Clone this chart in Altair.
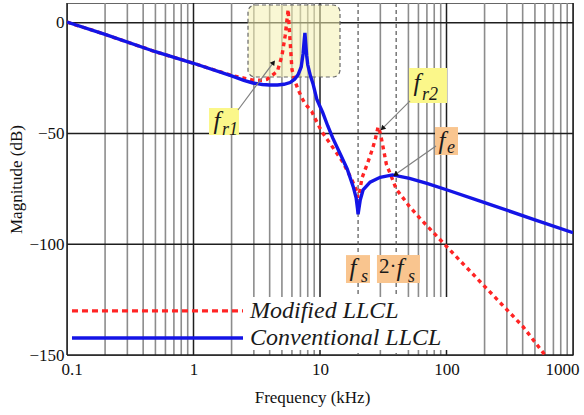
import altair as alt
import pandas as pd

# ---------------- data ----------------
blue_f = [0.1, 0.2, 0.5, 1, 2, 2.5, 2.95, 3.5, 4, 4.6, 5.2, 5.8, 6.3, 6.7, 7.1, 7.35, 7.5, 7.6,
          7.7, 7.85, 8.0, 8.4, 8.8, 9.46, 10.5, 11.5, 12.6, 14.4, 16.4, 18.3, 19.3, 19.8, 20,
          20.3, 20.8, 21.9, 24.9, 29.9, 37.4, 51, 70, 100, 200, 500, 1000]
blue_db = [0.3, -5.3, -13.1, -18.3, -24, -26, -27.2, -27.9, -28.1, -28.1, -27.8, -27, -25.5, -23.5,
           -20, -14, -8, -4.6, -9, -15, -19, -24, -27.5, -34.8, -40.5, -46.5, -52, -59, -66, -74,
           -79, -84, -86.5, -84, -80, -75.5, -72, -69.8, -68.7, -70.3, -72.5, -75.4, -81.2, -89, -94.8]

red_f = [0.1, 0.2, 0.5, 1, 2, 2.5, 2.95, 3.5, 3.8, 4.0, 4.6, 5.0, 5.3, 5.5, 5.6, 5.75, 6.0, 6.3,
         6.7, 7.2, 7.6, 8.6, 9.1, 10.3, 11.5, 13.5, 15.2, 17.9, 19.5, 20, 20.6, 21.5, 23.9, 26,
         27.5, 28.8, 30, 31, 33.5, 37, 40, 51, 61, 100, 200, 400, 600, 1000]
red_db = [0.3, -5.3, -13.1, -18.3, -23.8, -25, -25.9, -26, -25.6, -24.5, -22, -15, -6, 2, 6, -5,
          -21, -26, -30, -34, -36.5, -40, -43, -49, -53, -58.7, -63, -71, -76, -79, -76, -70, -63,
          -57, -52, -47, -50, -54, -64, -70, -75, -83, -88, -101, -119, -137, -150, -164]

x_ticks = [0.1, 1, 10, 100, 1000]
y_ticks = [-150, -100, -50, 0]
decades = [0.1, 1, 10, 100, 1000]
minor = [m * d for d in [0.1, 1, 10, 100] for m in range(2, 10) if not (d == 10 and m in (2, 4))]
fs_marks = [20, 40]

legend_names = ["Modified LLCL", "Conventional LLCL"]

SERIF = "Liberation Serif"
BLUE = "#1414e6"
RED = "#ff2424"

XS = alt.Scale(type="log", domain=[0.1, 1000], nice=False)
YS = alt.Scale(domain=[-150, 8.9], nice=False, zero=False)

AX = alt.Axis(
    values=x_ticks, format="~g", grid=False, ticks=False, domain=False,
    labelFont=SERIF, labelFontSize=17, labelColor="#111", labelPadding=6,
    labelFlush=True, labelFlushOffset=6,
    title="Frequency (kHz)", titleFont=SERIF, titleFontSize=17, titleFontWeight="normal",
    titleColor="#111", titleX=245, titleY=42, titleBaseline="middle", titleAlign="center")
AY = alt.Axis(
    values=y_ticks, grid=False, ticks=False, domain=False,
    labelFont=SERIF, labelFontSize=17, labelColor="#111", labelPadding=3,
    title="Magnitude (dB)", titleFont=SERIF, titleFontSize=17, titleFontWeight="normal",
    titleColor="#111", titleX=-51, titleY=176, titleBaseline="middle", titleAlign="center")


def X(field):
    return alt.X(field, type="quantitative", scale=XS, axis=AX)


def Y(field):
    return alt.Y(field, type="quantitative", scale=YS, axis=AY)


red_df = pd.DataFrame({"f": red_f, "db": red_db})
blue_df = pd.DataFrame({"f": blue_f, "db": blue_db})

# ---------------- grid ----------------
g_minor = alt.Chart(pd.DataFrame({"f": minor})).mark_rule(
    color="#8c8c8c", strokeWidth=1.6).encode(x=X("f"))
g_major = alt.Chart(pd.DataFrame({"f": decades})).mark_rule(
    color="#1e1e1e", strokeWidth=1.5).encode(x=X("f"))
g_h = alt.Chart(pd.DataFrame({"v": y_ticks})).mark_rule(
    color="#1e1e1e", strokeWidth=1.5).encode(y=Y("v"))
g_fs = alt.Chart(pd.DataFrame({"f": fs_marks})).mark_rule(
    color="#555555", strokeWidth=1.2, strokeDash=[4, 3]).encode(x=X("f"))

# highlighted resonance region
zone = alt.Chart(pd.DataFrame({"x1": [2.697], "x2": [14.39], "y1": [8.0], "y2": [-24.5]})).mark_rect(
    fill="#f4f0b0", fillOpacity=0.55, stroke="#666666", strokeDash=[4, 3], strokeWidth=1.2,
    cornerRadius=7).encode(x=X("x1"), x2="x2", y=Y("y1"), y2="y2")

# legend background
leg_bg = alt.Chart(pd.DataFrame({"x1": [2.60], "x2": [104.7], "y1": [-123.8], "y2": [-147.7]})).mark_rect(
    fill="white").encode(x=X("x1"), x2="x2", y=Y("y1"), y2="y2")

# ---------------- curves ----------------
red_line = alt.Chart(red_df).mark_line(
    color=RED, strokeWidth=3.4, strokeDash=[4, 4], clip=True).encode(x=X("f"), y=Y("db"))
blue_line = alt.Chart(blue_df).mark_line(color=BLUE, strokeWidth=3.4, clip=True).encode(
    x=X("f"), y=Y("db"))

# ---------------- legend ----------------
leg_red = alt.Chart(pd.DataFrame({"x1": [0.1095], "x2": [2.462], "y": [-130.1]})).mark_rule(
    color=RED, strokeWidth=3.4, strokeDash=[6, 4]).encode(x=X("x1"), x2="x2", y=Y("y"))
leg_blue = alt.Chart(pd.DataFrame({"x1": [0.1095], "x2": [2.462], "y": [-142.3]})).mark_rule(
    color=BLUE, strokeWidth=3.4).encode(x=X("x1"), x2="x2", y=Y("y"))
leg_txt = alt.Chart(pd.DataFrame({"x": [2.797, 2.797], "y": [-130.1, -142.3], "t": legend_names})).mark_text(
    font=SERIF, fontStyle="italic", fontSize=24, align="left", baseline="middle", color="#1a1a1a"
).encode(x=X("x"), y=Y("y"), text="t:N")

# ---------------- annotation boxes ----------------
box_df = pd.DataFrame({
    "x1": [1.326, 50.5, 81.1, 16.05, 28.2],
    "x2": [2.288, 100.9, 123.3, 24.85, 61.7],
    "y1": [-38.5, -20.4, -47.1, -104.9, -104.9],
    "y2": [-50.7, -36.2, -59.7, -117.5, -117.5],
    "c": ["#fbf78a", "#fbf78a", "#f9c58f", "#f9c58f", "#f9c58f"],
})
boxes = alt.Chart(box_df).mark_rect().encode(
    x=X("x1"), x2="x2", y=Y("y1"), y2="y2", fill=alt.Fill("c:N", scale=None))

arrow_df = pd.DataFrame({
    "x1": [2.248, 51.5, 82.6], "y1": [-39.4, -35.3, -55.7],
    "x2": [4.25, 31.5, 39.9], "y2": [-18.2, -47.5, -68.3],
    "ang": [37, 225, 235],
})
arrows = alt.Chart(arrow_df).mark_rule(color="#808080", strokeWidth=1.2).encode(
    x=X("x1"), x2="x2", y=Y("y1"), y2="y2")
heads = alt.Chart(arrow_df).mark_point(shape="triangle", filled=True, color="#111111",
                                       size=32, opacity=1).encode(
    x=X("x2"), y=Y("y2"), angle=alt.Angle("ang:Q", scale=None))

f_df = pd.DataFrame({"x": [1.534, 58.5, 92.1, 18.24, 42.9],
                     "y": [-44.4, -27.2, -53.4, -110.7, -110.7]})
f_txt = alt.Chart(f_df).mark_text(text="f", font=SERIF, fontStyle="italic", fontSize=25,
                                  align="center", baseline="middle", color="#1a1a1a").encode(
    x=X("x"), y=Y("y"))

sub_df = pd.DataFrame({"x": [1.680, 64.0, 100.9, 21.1, 49.6],
                       "y": [-48.4, -32.6, -56.6, -114.8, -114.8],
                       "t": ["r1", "r2", "e", "s", "s"]})
sub_txt = alt.Chart(sub_df).mark_text(font=SERIF, fontStyle="italic", fontSize=18,
                                      align="left", baseline="middle", color="#1a1a1a").encode(
    x=X("x"), y=Y("y"), text="t:N")

two_txt = alt.Chart(pd.DataFrame({"x": [29.3], "y": [-110.3], "t": ["2·"]})).mark_text(
    font=SERIF, fontSize=21, align="left", baseline="middle", color="#1a1a1a").encode(
    x=X("x"), y=Y("y"), text="t:N")

chart = alt.layer(
    g_minor, g_major, g_h, g_fs, zone, leg_bg, red_line, blue_line,
    leg_red, leg_blue, leg_txt, boxes, arrows, heads, f_txt, sub_txt, two_txt,
).properties(
    width=506, height=352,
    autosize=alt.AutoSizeParams(type="none"),
    padding={"left": 67, "top": 3, "right": 11, "bottom": 60},
).configure_view(
    stroke="#666666", strokeWidth=1
).configure_axis(
    labelFont=SERIF, labelFontSize=17, titleFont=SERIF, titleFontSize=17,
    titleFontWeight="normal", titleColor="#111", labelColor="#111"
)

chart.save("out.html", embed_options={"renderer": "svg", "actions": False})
